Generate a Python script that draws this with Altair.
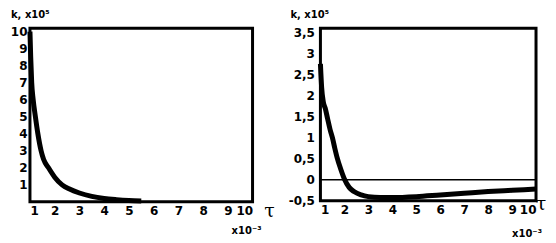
import altair as alt
import pandas as pd

# ---- data ----
x_ticks = [1, 2, 3, 4, 5, 6, 7, 8, 9, 10]
left_y_ticks = [1, 2, 3, 4, 5, 6, 7, 8, 9, 10]
right_y_ticks = [-0.5, 0, 0.5, 1, 1.5, 2, 2.5, 3, 3.5]

tau_left = [1.0, 1.03, 1.07, 1.13, 1.22, 1.32, 1.45, 1.55, 1.75, 2.0, 2.3, 2.6, 3.0, 3.5, 4.0, 4.5, 5.0, 5.5]
k_left = [10.0, 8.5, 7.0, 6.0, 5.0, 4.0, 3.0, 2.5, 2.0, 1.45, 1.0, 0.75, 0.52, 0.32, 0.2, 0.13, 0.08, 0.05]

tau_right = [1.0, 1.05, 1.12, 1.2, 1.3, 1.4, 1.5, 1.6, 1.7, 1.85, 2.0, 2.2, 2.4, 2.7, 3.0, 3.5, 4.0, 5.0, 6.0, 7.0, 8.0, 9.0, 10.0]
k_right = [2.75, 2.2, 1.85, 1.7, 1.45, 1.2, 1.0, 0.75, 0.52, 0.25, 0.02, -0.18, -0.28, -0.36, -0.4, -0.42, -0.42, -0.4, -0.36, -0.32, -0.28, -0.25, -0.22]
zero_level = [0.0]

y_title = "k, x10⁵"
x_symbol = "τ"
x_scale_note = "x10⁻³"

FONT = "DejaVu Sans"
LABEL_EXPR = "replace(toString(datum.value), '.', ',')"


def panel(df, ydomain, yticks, w, h, title_dx, tau_pos, note_pos, ylabpad, zero_line=False):
    yenc = alt.Y("k:Q", scale=alt.Scale(domain=ydomain, nice=False, zero=False),
                 axis=alt.Axis(values=yticks, title=None, labelPadding=ylabpad, labelExpr=LABEL_EXPR,
                               labelOverlap=False, labelBound=False))
    layers = []
    if zero_line:
        zdf = pd.DataFrame({"k": zero_level})
        layers.append(alt.Chart(zdf).mark_rule(color="black", strokeWidth=1.5).encode(y=yenc))
    line = alt.Chart(df).mark_line(color="black", strokeWidth=5, interpolate="monotone").encode(
        x=alt.X("tau:Q", scale=alt.Scale(domain=[1, 10], nice=False),
                axis=alt.Axis(values=x_ticks, title=None, labelPadding=4,
                              labelOverlap=False, labelBound=False)),
        y=yenc,
    )
    layers.append(line)
    tdf = pd.DataFrame({"t": [y_title]})
    layers.append(alt.Chart(tdf).mark_text(align="left", baseline="middle", font=FONT, fontSize=10,
                                            fontWeight="bold", color="black").encode(
        x=alt.value(title_dx), y=alt.value(-13), text="t:N"))
    sdf = pd.DataFrame({"t": [x_symbol]})
    layers.append(alt.Chart(sdf).mark_text(align="center", baseline="middle", font="DejaVu Serif",
                                            fontSize=19, color="black").encode(
        x=alt.value(tau_pos[0]), y=alt.value(tau_pos[1]), text="t:N"))
    ndf = pd.DataFrame({"t": [x_scale_note]})
    layers.append(alt.Chart(ndf).mark_text(align="center", baseline="middle", font=FONT, fontSize=10,
                                            fontWeight="bold", color="black").encode(
        x=alt.value(note_pos[0]), y=alt.value(note_pos[1]), text="t:N"))
    return alt.layer(*layers).properties(width=w, height=h)


dfL = pd.DataFrame({"tau": tau_left, "k": k_left})
dfR = pd.DataFrame({"tau": tau_right, "k": k_right})

left = panel(dfL, [0, 10.2], left_y_ticks, 223, 174, -19, (240, 183), (217, 203), 3)
right = panel(dfR, [-0.5, 3.6], right_y_ticks, 216, 173, -30, (221, 176), (207, 206), 6, zero_line=True)

chart = alt.hconcat(left, right, spacing=10).properties(
    padding={"left": 0, "top": 0, "right": 0, "bottom": 0}
).configure_view(stroke="black", strokeWidth=3).configure_axis(
    domain=False, ticks=False, grid=False, labelFont=FONT, labelFontSize=12,
    labelFontWeight="bold", labelColor="black"
)

chart.save("out.html", embed_options={"renderer": "svg", "actions": False})
